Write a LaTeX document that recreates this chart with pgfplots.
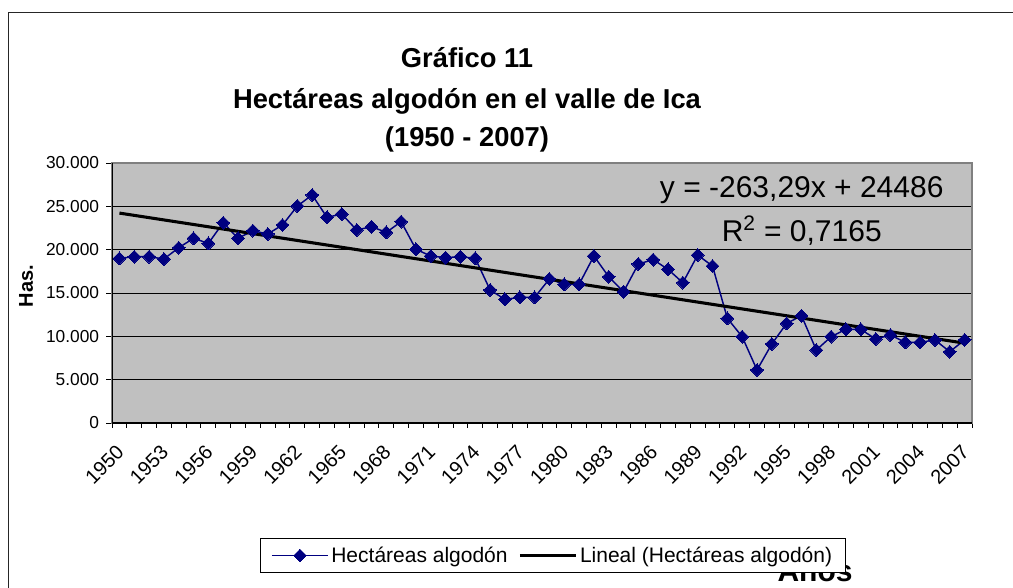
\documentclass[border=0pt]{standalone}
\usepackage{fontspec}
\setmainfont{Liberation Sans}
\usepackage{pgfplots}
\usepackage{pgfplotstable}
\pgfplotsset{compat=1.18}
\definecolor{navyx}{RGB}{0,0,128}
\definecolor{plotgray}{RGB}{192,192,192}
\pgfplotstableread{
year value
1950 19000
1951 19190
1952 19190
1953 18920
1954 20230
1955 21310
1956 20730
1957 23110
1958 21310
1959 22190
1960 21810
1961 22850
1962 25040
1963 26310
1964 23730
1965 24110
1966 22270
1967 22650
1968 22000
1969 23230
1970 20040
1971 19270
1972 19080
1973 19190
1974 19000
1975 15350
1976 14270
1977 14500
1978 14500
1979 16620
1980 16000
1981 16000
1982 19270
1983 16880
1984 15150
1985 18350
1986 18850
1987 17730
1988 16190
1989 19380
1990 18110
1991 12080
1992 9960
1993 6120
1994 9120
1995 11500
1996 12380
1997 8420
1998 9960
1999 10810
2000 10810
2001 9690
2002 10150
2003 9310
2004 9310
2005 9580
2006 8230
2007 9580
}\datatable
\pgfplotstableread{
year value
1950 24222.71
2007 9215.18
}\trendtable
\begin{document}
\begin{tikzpicture}
\useasboundingbox (0,0) rectangle (759.75pt,-440.25pt);
\draw[line width=1.1pt, black!85] (6.2pt,-470pt) -- (6.2pt,-9.5pt) -- (775pt,-9.5pt);
\node[anchor=base, font=\bfseries\fontsize{20.5}{25}\selectfont] at (350.25pt,-50.25pt) {Gráfico 11};
\node[anchor=base, font=\bfseries\fontsize{20.5}{25}\selectfont] at (350.25pt,-81pt) {Hectáreas algodón en el valle de Ica};
\node[anchor=base, font=\bfseries\fontsize{20.5}{25}\selectfont] at (350.25pt,-109.5pt) {(1950 - 2007)};
\node[anchor=base, font=\bfseries\fontsize{22.5}{27}\selectfont] at (611.25pt,-435.75pt) {Años};
\begin{axis}[
  at={(84pt,-317.25pt)}, anchor=south west,
  scale only axis, width=645pt, height=195pt,
  xmin=1949.5, xmax=2007.5, ymin=0, ymax=30000,
  axis background/.style={fill=plotgray},
  axis line style={draw=gray, line width=1.2pt},
  xtick={1950,1953,...,2007},
  xticklabels={1950,1953,1956,1959,1962,1965,1968,1971,1974,1977,1980,1983,1986,1989,1992,1995,1998,2001,2004,2007},
  minor xtick={1949.5,1950.5,...,2007.5},
  major x tick style={draw=none},
  minor x tick style={black, line width=0.75pt},
  minor tick length=3.6pt,
  ytick={0,5000,...,30000},
  scaled y ticks=false,
  major y tick style={black, line width=0.75pt},
  major tick length=4.5pt,
  tick align=outside,
  xtick pos=bottom, ytick pos=left,
  ymajorgrids, grid style={black, line width=0.7pt},
  /pgf/number format/assume math mode=true,
  /pgf/number format/1000 sep={.},
  yticklabel style={font=\fontsize{13}{15}\selectfont, inner sep=1pt, xshift=-4pt},
  xticklabel style={font=\fontsize{15}{17}\selectfont, rotate=45, anchor=east, inner sep=1pt, xshift=-9pt, yshift=-11pt},
  ylabel={Has.},
  ylabel style={font=\bfseries\fontsize{15}{18}\selectfont, at={(axis description cs:-0.1,0.527)}, anchor=center},
  legend columns=2,
  legend style={at={(axis description cs:0.5128,-0.5096)}, anchor=center, draw=black, line width=0.75pt, fill=white,
    font=\fontsize{15.75}{18}\selectfont, inner xsep=8pt, inner ysep=4.5pt,
    /tikz/every even column/.append style={column sep=6pt}},
  legend cell align=left,
  legend image code/.code={\draw[mark repeat=2,mark phase=2,#1] plot coordinates {(0pt,0pt) (21pt,0pt) (42pt,0pt)};},
]
\addplot[navyx, line width=1.1pt, mark=square*, mark size=3.4pt, mark options={rotate=45, fill=navyx, draw=navyx, line width=0pt}] table[x=year, y=value] {\datatable};
\addlegendentry{Hectáreas algodón}
\addplot[black, line width=2.3pt] table[x=year, y=value] {\trendtable};
\addlegendentry{Lineal (Hectáreas algodón)}
\draw[black, line width=1.1pt] (rel axis cs:0,1) -- (rel axis cs:0,0) -- (rel axis cs:1,0);
\end{axis}
\node[anchor=base, font=\fontsize{22.5}{27}\selectfont] at (601.3pt,-147.75pt) {y = -263,29x + 24486};
\node[anchor=base, font=\fontsize{22.5}{27}\selectfont] at (601.3pt,-180.75pt) {R\textsuperscript{2} = 0,7165};
\end{tikzpicture}
\end{document}
